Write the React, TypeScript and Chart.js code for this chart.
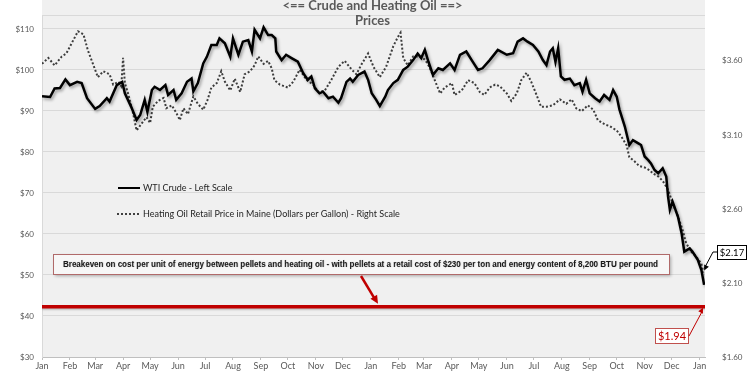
import React, { useEffect, useRef } from "react";
import { Chart, registerables } from "chart.js";

Chart.register(...registerables);

// ---- Data ----
const MONTH_LABELS = [
  "Jan", "Feb", "Mar", "Apr", "May", "Jun", "Jul", "Aug", "Sep", "Oct", "Nov", "Dec",
  "Jan", "Feb", "Mar", "Apr", "May", "Jun", "Jul", "Aug", "Sep", "Oct", "Nov", "Dec", "Jan",
];
// days since Jan 1 (first year) at which each month label sits
const MONTH_START_DAYS = [
  0, 31, 59, 90, 120, 151, 181, 212, 243, 273, 304, 334,
  365, 396, 424, 455, 485, 516, 546, 577, 608, 638, 669, 699, 730,
];
const X_MAX_DAY = 736;

const LEFT_TICKS = [30, 40, 50, 60, 70, 80, 90, 100, 110];
const LEFT_MIN = 30;
const LEFT_MAX = 113.4;
const RIGHT_TICKS = [1.6, 2.1, 2.6, 3.1, 3.6];
const RIGHT_MIN = 1.6;
const RIGHT_MAX = 3.91;

// WTI crude, $/bbl (left scale)
const CRUDE_DAYS = [
  0, 9, 14, 20, 26, 31, 39, 44, 50, 59, 64, 72, 75, 83, 89, 92, 99, 105, 109, 114,
  117, 122, 125, 131, 137, 140, 146, 149, 155, 161, 166, 168, 173, 179, 183, 188, 194, 197, 203, 209,
  212, 218, 223, 229, 233, 236, 242, 246, 251, 255, 259, 260, 266, 271, 277, 284, 290, 295, 299, 303,
  308, 312, 318, 323, 329, 332, 338, 342, 345, 351, 358, 362, 366, 371, 375, 381, 384, 390, 395, 401,
  406, 412, 417, 421, 425, 429, 434, 440, 445, 453, 458, 464, 471, 477, 484, 489, 497, 506, 516, 523,
  528, 534, 539, 545, 551, 556, 560, 564, 567, 570, 573, 576, 580, 586, 591, 597, 600, 604, 608, 614,
  619, 624, 630, 634, 638, 641, 647, 652, 656, 662, 665, 669, 673, 676, 680, 684, 689, 693, 695, 697,
  700, 706, 710, 713, 719, 722, 728, 732, 735,
];
const CRUDE_PRICES = [
  93.6, 93.4, 95.5, 95.6, 97.7, 96.3, 97.1, 96.8, 93.1, 90.5, 91.2, 93.1, 92.3, 96.3, 97.1, 94.3, 91.0, 87.8, 89.0, 92.7,
  89.8, 95.1, 95.9, 95.1, 96.3, 93.9, 95.1, 92.7, 94.3, 97.1, 97.9, 94.8, 96.8, 101.6, 103.2, 106.1, 106.1, 107.7, 106.5, 103.2,
  107.7, 103.7, 106.9, 107.3, 104.5, 109.8, 107.7, 110.4, 108.5, 108.5, 107.7, 104.5, 102.4, 103.7, 102.9, 102.0, 99.2, 97.6, 98.4, 95.5,
  94.3, 94.7, 93.1, 93.5, 92.0, 93.1, 97.1, 97.9, 97.1, 98.8, 99.6, 97.6, 94.3, 92.7, 91.2, 93.5, 95.1, 96.8, 97.6, 100.0,
  100.8, 102.4, 104.0, 102.9, 104.9, 102.0, 98.8, 100.4, 100.0, 101.6, 100.0, 103.7, 104.5, 102.4, 100.0, 100.4, 102.4, 104.9, 103.7, 104.1,
  106.9, 107.7, 106.9, 106.1, 104.5, 102.4, 101.2, 104.5, 105.3, 102.0, 105.3, 98.4, 97.6, 97.9, 96.3, 96.8, 94.7, 97.6, 94.3, 93.1,
  92.3, 93.9, 92.7, 95.1, 93.5, 90.4, 86.2, 81.7, 82.9, 82.1, 81.7, 78.9, 78.0, 77.2, 75.6, 74.8, 76.0, 74.0, 69.1, 65.9,
  67.9, 64.2, 60.2, 55.7, 56.5, 55.7, 53.7, 51.2, 47.6,
];

// Heating oil retail price in Maine, $/gal (right scale)
const HEAT_DAYS = [
  0, 7, 14, 22, 27, 33, 40, 46, 51, 59, 62, 68, 75, 79, 85, 88, 90, 92, 96, 101,
  105, 111, 116, 120, 123, 129, 135, 138, 144, 149, 153, 157, 162, 168, 173, 179, 184, 188, 194, 199,
  203, 209, 214, 220, 225, 231, 236, 240, 246, 251, 255, 258, 264, 273, 279, 286, 294, 301, 307, 314,
  321, 329, 336, 344, 349, 355, 362, 368, 375, 382, 390, 395, 398, 401, 406, 412, 419, 425, 430, 436,
  442, 447, 455, 458, 466, 473, 480, 486, 491, 497, 503, 508, 516, 521, 527, 532, 538, 543, 549, 554,
  560, 567, 575, 582, 588, 593, 599, 606, 612, 617, 625, 630, 638, 643, 649, 652, 658, 663, 669, 675,
  678, 684, 689, 695, 700, 706, 711, 715, 721, 726, 732, 734,
];
const HEAT_PRICES = [
  3.58, 3.62, 3.57, 3.63, 3.65, 3.72, 3.80, 3.78, 3.67, 3.54, 3.49, 3.53, 3.51, 3.44, 3.46, 3.43, 3.62, 3.45, 3.37, 3.25,
  3.13, 3.18, 3.22, 3.18, 3.29, 3.33, 3.35, 3.28, 3.30, 3.25, 3.20, 3.28, 3.24, 3.36, 3.31, 3.27, 3.34, 3.42, 3.45, 3.53,
  3.46, 3.40, 3.48, 3.39, 3.51, 3.53, 3.57, 3.63, 3.58, 3.60, 3.55, 3.47, 3.44, 3.42, 3.46, 3.54, 3.47, 3.44, 3.39, 3.40,
  3.47, 3.56, 3.60, 3.54, 3.51, 3.58, 3.65, 3.56, 3.49, 3.56, 3.70, 3.76, 3.79, 3.62, 3.57, 3.63, 3.63, 3.61, 3.56, 3.47,
  3.38, 3.42, 3.45, 3.37, 3.40, 3.47, 3.45, 3.39, 3.37, 3.42, 3.44, 3.43, 3.38, 3.33, 3.38, 3.47, 3.52, 3.46, 3.37, 3.29,
  3.29, 3.30, 3.34, 3.31, 3.34, 3.28, 3.26, 3.30, 3.27, 3.20, 3.17, 3.16, 3.13, 3.09, 3.03, 2.95, 2.92, 2.89, 2.88, 2.86,
  2.84, 2.82, 2.79, 2.73, 2.64, 2.55, 2.46, 2.37, 2.31, 2.28, 2.23, 2.17,
];

// Breakeven heating-oil price vs pellets, $/gal (right scale)
const BREAKEVEN_DAYS = [0, X_MAX_DAY];
const BREAKEVEN_PRICES = [1.94, 1.94];

const TITLE_LINES = ["<== Crude and Heating Oil ==>", "Prices"];
const LEGEND_CRUDE = "WTI Crude - Left Scale";
const LEGEND_HEAT = "Heating Oil Retail Price in Maine (Dollars per Gallon) - Right Scale";
const NOTE_TEXT =
  "Breakeven on cost per unit of energy between pellets and heating oil - with pellets at a retail cost of $230 per ton and energy content of 8,200 BTU per pound";

const GRAY_TEXT = "#595959";
const PLOT_BG = "#f0f0f0";
const GRID = "#d9d9d9";
const RED = "#c00000";

function drawArrowHead(ctx: CanvasRenderingContext2D, x0: number, y0: number, x1: number, y1: number, size: number, color: string) {
  const ang = Math.atan2(y1 - y0, x1 - x0);
  ctx.save();
  ctx.fillStyle = color;
  ctx.beginPath();
  ctx.moveTo(x1, y1);
  ctx.lineTo(x1 - size * Math.cos(ang - 0.45), y1 - size * Math.sin(ang - 0.45));
  ctx.lineTo(x1 - size * Math.cos(ang + 0.45), y1 - size * Math.sin(ang + 0.45));
  ctx.closePath();
  ctx.fill();
  ctx.restore();
}

const backgroundPlugin = {
  id: "bgPlugin",
  beforeDraw(chart: any) {
    const { ctx, chartArea } = chart;
    ctx.save();
    ctx.fillStyle = "#ffffff";
    ctx.fillRect(0, 0, chart.width, chart.height);
    ctx.fillStyle = PLOT_BG;
    ctx.fillRect(chartArea.left, 0, chartArea.right - chartArea.left, chartArea.bottom);
    ctx.strokeStyle = GRID;
    ctx.lineWidth = 1;
    ctx.beginPath();
    ctx.moveTo(chartArea.left, chartArea.top + 0.5);
    ctx.lineTo(chartArea.right, chartArea.top + 0.5);
    ctx.stroke();
    ctx.restore();
  },
};

const shadowPlugin = {
  id: "shadowPlugin",
  beforeDatasetDraw(chart: any, args: any) {
    const ctx = chart.ctx;
    ctx.save();
    if (args.index === 0) {
      ctx.shadowColor = "rgba(0,0,0,0.35)";
      ctx.shadowBlur = 3;
      ctx.shadowOffsetX = 1.5;
      ctx.shadowOffsetY = 2;
    } else if (args.index === 2) {
      ctx.shadowColor = "rgba(0,0,0,0.2)";
      ctx.shadowBlur = 2;
      ctx.shadowOffsetX = 0;
      ctx.shadowOffsetY = 1.5;
    }
  },
  afterDatasetDraw(chart: any) {
    chart.ctx.restore();
  },
};

const annotationPlugin = {
  id: "annotationPlugin",
  afterDraw(chart: any) {
    const { ctx, chartArea, scales } = chart;
    const cx = (chartArea.left + chartArea.right) / 2;
    ctx.save();

    // Title
    ctx.fillStyle = GRAY_TEXT;
    ctx.font = "bold 13px Lato";
    ctx.textAlign = "center";
    ctx.textBaseline = "middle";
    ctx.fillText(TITLE_LINES[0], cx - 1, 6);
    ctx.fillText(TITLE_LINES[1], cx - 1, 21);

    // Legend
    ctx.textAlign = "left";
    ctx.font = "9px Lato";
    ctx.fillStyle = "#1f1f1f";
    ctx.strokeStyle = "#000";
    ctx.lineWidth = 2;
    ctx.beginPath();
    ctx.moveTo(118, 188);
    ctx.lineTo(140, 188);
    ctx.stroke();
    ctx.fillText(LEGEND_CRUDE, 143, 188);
    ctx.strokeStyle = "#404040";
    ctx.setLineDash([2, 2]);
    ctx.beginPath();
    ctx.moveTo(117, 214);
    ctx.lineTo(140, 214);
    ctx.stroke();
    ctx.setLineDash([]);
    ctx.fillText(LEGEND_HEAT, 143, 214);

    // Note box
    ctx.save();
    ctx.shadowColor = "rgba(0,0,0,0.3)";
    ctx.shadowBlur = 3;
    ctx.shadowOffsetX = 2;
    ctx.shadowOffsetY = 2;
    ctx.fillStyle = "#f7f7f7";
    ctx.fillRect(53, 254, 616, 20);
    ctx.restore();
    ctx.strokeStyle = "#b06a6a";
    ctx.lineWidth = 1;
    ctx.strokeRect(53.5, 254.5, 616, 20);
    ctx.save();
    ctx.shadowColor = "rgba(0,0,0,0.25)";
    ctx.shadowBlur = 1;
    ctx.shadowOffsetX = 0.5;
    ctx.shadowOffsetY = 0.5;
    ctx.fillStyle = "#1a1a1a";
    ctx.font = "bold 9px 'Liberation Sans'";
    ctx.fillText(NOTE_TEXT, 63, 264.5, 595);
    ctx.restore();

    // Arrow from note to breakeven line
    const yBreak = scales.y1.getPixelForValue(BREAKEVEN_PRICES[0]);
    ctx.strokeStyle = RED;
    ctx.lineWidth = 2.5;
    ctx.beginPath();
    ctx.moveTo(361, 276);
    ctx.lineTo(374, yBreak - 9);
    ctx.stroke();
    drawArrowHead(ctx, 361, 276, 378, yBreak - 3, 9, RED);

    // $1.94 callout
    const xEnd = chartArea.right - 2;
    ctx.fillStyle = "#ffffff";
    ctx.fillRect(655, 328, 33, 15);
    ctx.strokeStyle = "#c0504d";
    ctx.lineWidth = 1;
    ctx.strokeRect(655.5, 328.5, 33, 15);
    ctx.fillStyle = RED;
    ctx.font = "11px Lato";
    ctx.textAlign = "center";
    ctx.fillText("$1.94", 672, 336.5);
    ctx.strokeStyle = RED;
    ctx.beginPath();
    ctx.moveTo(689, 336);
    ctx.lineTo(xEnd - 1, yBreak + 5);
    ctx.stroke();
    drawArrowHead(ctx, 689, 336, xEnd, yBreak + 1, 6, RED);

    // $2.17 callout
    const lastHeatX = scales.x.getPixelForValue(HEAT_DAYS[HEAT_DAYS.length - 1]);
    const lastHeatY = scales.y1.getPixelForValue(HEAT_PRICES[HEAT_PRICES.length - 1]);
    ctx.fillStyle = "#ffffff";
    ctx.fillRect(717, 245, 29, 14);
    ctx.strokeStyle = "#000";
    ctx.strokeRect(717.5, 245.5, 29, 14);
    ctx.fillStyle = "#000";
    ctx.font = "9.5px Lato";
    ctx.fillText("$2.17", 732, 252.5);
    ctx.beginPath();
    ctx.moveTo(717, 252);
    ctx.lineTo(713, 252);
    ctx.lineTo(lastHeatX + 1, lastHeatY - 4);
    ctx.stroke();
    drawArrowHead(ctx, 713, 252, lastHeatX + 1, lastHeatY - 2, 6, "#000");

    ctx.restore();
  },
};

export default function App() {
  const canvasRef = useRef<HTMLCanvasElement | null>(null);

  useEffect(() => {
    if (!canvasRef.current) return;
    const chart = new Chart(canvasRef.current, {
      type: "line",
      data: {
        datasets: [
          {
            label: LEGEND_CRUDE,
            data: CRUDE_DAYS.map((d, i) => ({ x: d, y: CRUDE_PRICES[i] })),
            yAxisID: "y",
            borderColor: "#000000",
            borderWidth: 2.5,
            pointRadius: 0,
            tension: 0,
          },
          {
            label: LEGEND_HEAT,
            data: HEAT_DAYS.map((d, i) => ({ x: d, y: HEAT_PRICES[i] })),
            yAxisID: "y1",
            borderColor: "#3c3c3c",
            borderWidth: 2,
            borderDash: [2, 2],
            pointRadius: 0,
            tension: 0,
          },
          {
            label: "Breakeven",
            data: BREAKEVEN_DAYS.map((d, i) => ({ x: d, y: BREAKEVEN_PRICES[i] })),
            yAxisID: "y1",
            borderColor: RED,
            borderWidth: 3.5,
            pointRadius: 0,
          },
        ],
      },
      options: {
        responsive: false,
        animation: false,
        layout: { padding: { top: 15, left: 0, right: 0, bottom: 0 } },
        plugins: {
          legend: { display: false },
          tooltip: { enabled: false },
          title: { display: false },
        },
        scales: {
          x: {
            type: "linear",
            min: 0,
            max: X_MAX_DAY,
            afterBuildTicks: (scale: any) => {
              scale.ticks = MONTH_START_DAYS.map((v) => ({ value: v }));
            },
            afterFit: (scale: any) => {
              scale.height = 18;
            },
            ticks: {
              autoSkip: false,
              maxRotation: 0,
              padding: 1,
              color: GRAY_TEXT,
              font: { family: "Lato", size: 9 },
              callback: (_v: any, i: number) => MONTH_LABELS[i],
            },
            grid: { drawOnChartArea: false, drawTicks: true, tickLength: 3, color: "#bfbfbf" },
            border: { display: true, color: "#bfbfbf" },
          },
          y: {
            type: "linear",
            position: "left",
            min: LEFT_MIN,
            max: LEFT_MAX,
            afterBuildTicks: (scale: any) => {
              scale.ticks = LEFT_TICKS.map((v) => ({ value: v }));
            },
            afterFit: (scale: any) => {
              scale.width = 42;
            },
            ticks: {
              padding: 8,
              color: GRAY_TEXT,
              font: { family: "Lato", size: 8 },
              callback: (v: any) => "$" + v,
            },
            grid: { color: GRID, drawTicks: false },
            border: { display: true, color: GRID },
          },
          y1: {
            type: "linear",
            position: "right",
            min: RIGHT_MIN,
            max: RIGHT_MAX,
            afterBuildTicks: (scale: any) => {
              scale.ticks = RIGHT_TICKS.map((v) => ({ value: v }));
            },
            afterFit: (scale: any) => {
              scale.width = 45;
            },
            ticks: {
              padding: 9,
              color: GRAY_TEXT,
              font: { family: "Lato", size: 8 },
              callback: (v: any) => "$" + Number(v).toFixed(2),
            },
            grid: { display: false, drawOnChartArea: false },
            border: { display: false },
          },
        },
      },
      plugins: [backgroundPlugin, shadowPlugin, annotationPlugin],
    } as any);
    return () => chart.destroy();
  }, []);

  return (
    <div style={{ position: "absolute", left: 0, top: 0, width: 750, height: 375 }}>
      <canvas ref={canvasRef} width={750} height={375} />
    </div>
  );
}
